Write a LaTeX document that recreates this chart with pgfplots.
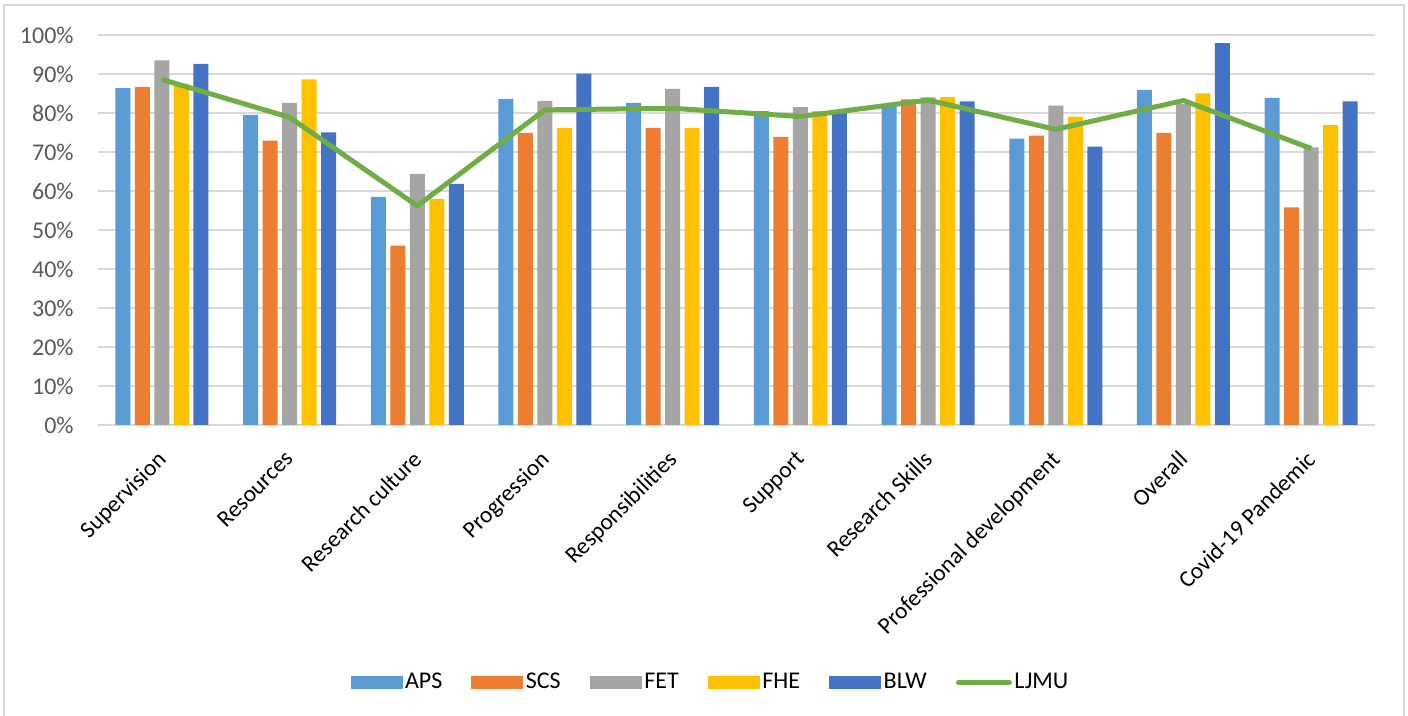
\documentclass[border=0pt]{standalone}
\usepackage{fontspec}
\setmainfont{Carlito}
\usepackage{pgfplots}
\pgfplotsset{compat=1.18}
\definecolor{aps}{HTML}{5B9BD5}
\definecolor{scs}{HTML}{ED7D31}
\definecolor{fet}{HTML}{A5A5A5}
\definecolor{fhe}{HTML}{FFC000}
\definecolor{blw}{HTML}{4472C4}
\definecolor{ljmu}{HTML}{70AD47}
\definecolor{gridc}{HTML}{D9D9D9}
\definecolor{ticktext}{HTML}{595959}
\pgfplotsset{
  barleg/.style={legend image code/.code={\fill[#1] (0pt,-3.25pt) rectangle (26pt,3.25pt);}},
  lineleg/.style={legend image code/.code={\draw[#1, line cap=round] (1.25pt,0pt) -- (26.75pt,0pt);}},
}
\begin{document}
\begin{tikzpicture}
\path[use as bounding box] (-49pt,-145.5pt) rectangle (655pt,212.5pt);
\draw[gridc, line width=0.75pt] (-47pt,-150pt) -- (-47pt,210pt) -- (653pt,210pt) -- (653pt,-150pt);
\begin{axis}[
  at={(0,0)}, anchor=south west,
  scale only axis, width=638.5pt, height=195pt,
  xmin=-0.5, xmax=9.5, ymin=0, ymax=100,
  axis line style={draw=none},
  major tick length=0pt,
  xtick style={draw=none}, ytick style={draw=none},
  xmajorgrids=false, ymajorgrids=true,
  major grid style={draw=gridc, line width=0.75pt},
  ytick={0,10,20,30,40,50,60,70,80,90,100},
  yticklabels={0\%,10\%,20\%,30\%,40\%,50\%,60\%,70\%,80\%,90\%,100\%},
  yticklabel style={font=\fontsize{12}{14}\selectfont, text=ticktext, anchor=east, inner sep=0pt, xshift=-12pt},
  xtick={0,1,2,3,4,5,6,7,8,9},
  xticklabels={Supervision,Resources,Research culture,Progression,Responsibilities,Support,Research Skills,Professional development,Overall,Covid-19 Pandemic},
  xticklabel style={xshift=-3pt, yshift=-12pt, rotate=45, anchor=north east, inner sep=0pt, font=\fontsize{11.7}{14}\selectfont},
  legend columns=6,
  legend style={at={(0.4798,-0.660)}, anchor=center, draw=none, fill=none,
    font=\fontsize{12}{14}\selectfont, nodes={inner xsep=1.25pt},
    /tikz/every odd column/.append style={column sep=0pt},
    /tikz/every even column/.append style={column sep=13.3pt}},
  legend cell align=left,
]
\addplot[ybar, bar width=7.5pt, bar shift=-19.5pt, fill=aps, draw=none, barleg] coordinates {
(0,86.4) (1,79.5) (2,58.5) (3,83.6) (4,82.6) (5,80.5) (6,82.0) (7,73.4) (8,85.9) (9,83.9)};
\addlegendentry{APS}
\addplot[ybar, bar width=7.5pt, bar shift=-9.75pt, fill=scs, draw=none, barleg] coordinates {
(0,86.7) (1,72.9) (2,46.0) (3,74.9) (4,76.2) (5,73.9) (6,83.5) (7,74.2) (8,74.9) (9,55.8)};
\addlegendentry{SCS}
\addplot[ybar, bar width=7.5pt, bar shift=0pt, fill=fet, draw=none, barleg] coordinates {
(0,93.5) (1,82.6) (2,64.4) (3,83.1) (4,86.2) (5,81.5) (6,84.0) (7,81.9) (8,82.3) (9,71.2)};
\addlegendentry{FET}
\addplot[ybar, bar width=7.5pt, bar shift=9.75pt, fill=fhe, draw=none, barleg] coordinates {
(0,87.5) (1,88.6) (2,58.0) (3,76.2) (4,76.2) (5,80.5) (6,84.1) (7,79.1) (8,85.0) (9,76.9)};
\addlegendentry{FHE}
\addplot[ybar, bar width=7.5pt, bar shift=19.5pt, fill=blw, draw=none, barleg] coordinates {
(0,92.6) (1,75.0) (2,61.8) (3,90.1) (4,86.7) (5,80.3) (6,83.0) (7,71.4) (8,97.9) (9,83.0)};
\addlegendentry{BLW}
\addplot[sharp plot, color=ljmu, line width=2.5pt, mark=none, line join=round, lineleg] coordinates {
(0,88.6) (1,78.9) (2,56.2) (3,80.8) (4,81.2) (5,79.1) (6,83.3) (7,75.8) (8,83.2) (9,70.9)};
\addlegendentry{LJMU}
\end{axis}
\end{tikzpicture}
\end{document}
